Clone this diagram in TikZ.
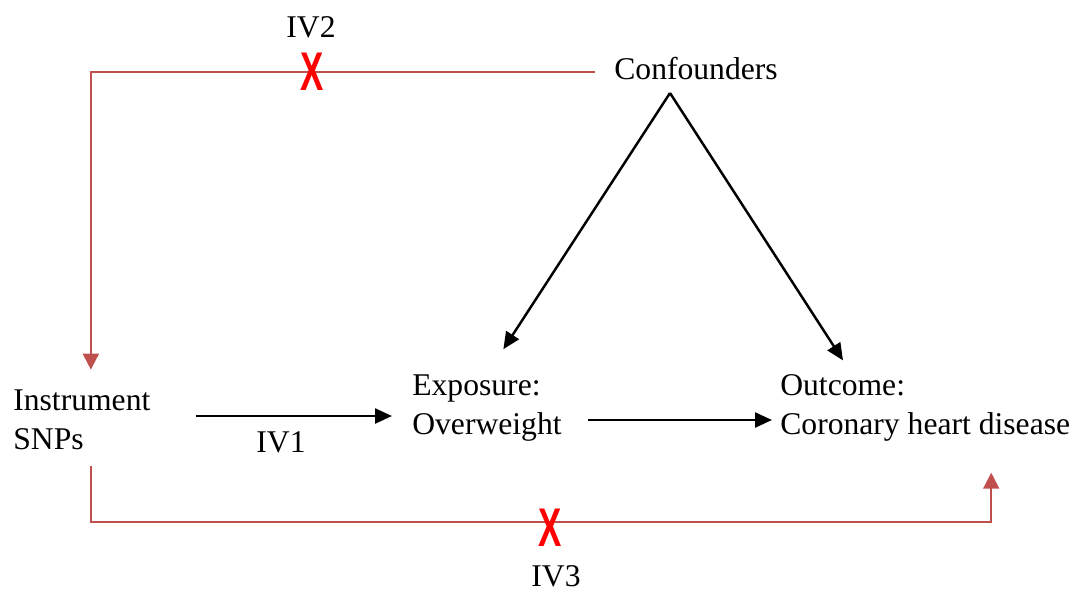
\documentclass[tikz,border=0pt]{standalone}
\usepackage{fontspec}
\setmainfont{Liberation Serif}
\newfontfamily\crossfont{Liberation Sans}
\usetikzlibrary{arrows.meta, positioning}
\definecolor{ivred}{RGB}{192,80,77}

\begin{document}
\begin{tikzpicture}[
      x=0.02cm, y=-0.02cm,
      >={Triangle[length=0.34cm, width=0.3cm]},
      txt/.style={inner sep=0, align=left, font=\fontsize{18}{22.2}\selectfont},
      arrowline/.style={->, line width=1.4pt},
      ivpath/.style={->, draw=ivred, line width=1.1pt,
        >={Triangle[length=0.32cm, width=0.32cm]}},
      xmark/.style={inner sep=0, text=red, xscale=0.64,
        font=\crossfont\bfseries\fontsize{31}{31}\selectfont}
    ]
    \useasboundingbox (0,0) rectangle (1080,593);

    \node[txt, anchor=west] (snp)  at (13,420)  {Instrument\\SNPs};
    \node[txt, anchor=west] (expo) at (412,408) {Exposure:\\Overweight};
    \node[txt, anchor=west] (outc) at (780,408) {Outcome:\\Coronary heart disease};
    \node[txt, anchor=base west] (conf) at (614,79) {Confounders};
    \coordinate (apex) at (670,93);

    \node[txt, anchor=base] (iv1) at (281,452) {IV1};
    \node[txt, anchor=base] (iv2) at (311,37)  {IV2};
    \node[txt, anchor=base] (iv3) at (556,586) {IV3};

    % black arrows
    \draw[arrowline, shorten <=0.9cm, shorten >=0.4cm] (snp.east |- 0,416) -- (expo.west |- 0,416);
    \draw[arrowline, shorten <=0.52cm, shorten >=0.16cm] (expo.east |- 0,420) -- (outc.west |- 0,420);
    \draw[arrowline, shorten >=0.6cm] (apex) -- (expo.north);
    \draw[arrowline, shorten >=0.33cm] (apex) -- ([xshift=1.44cm]outc.north west);

    % violated assumptions
    \draw[ivpath, shorten >=0.4cm] ([xshift=-0.38cm, yshift=0.14cm]conf.base west) -| ([xshift=0.18cm]snp.north);
    \draw[ivpath, shorten <=0.32cm, shorten >=0.62cm] ([xshift=0.18cm]snp.south)
      -- ([xshift=0.18cm]snp.south |- 0,522) -| ([xshift=1.32cm]outc.south);

    \node[xmark] (x2) at (312,72)  {X};
    \node[xmark] (x3) at (550,528) {X};
  \end{tikzpicture}
\end{document}
